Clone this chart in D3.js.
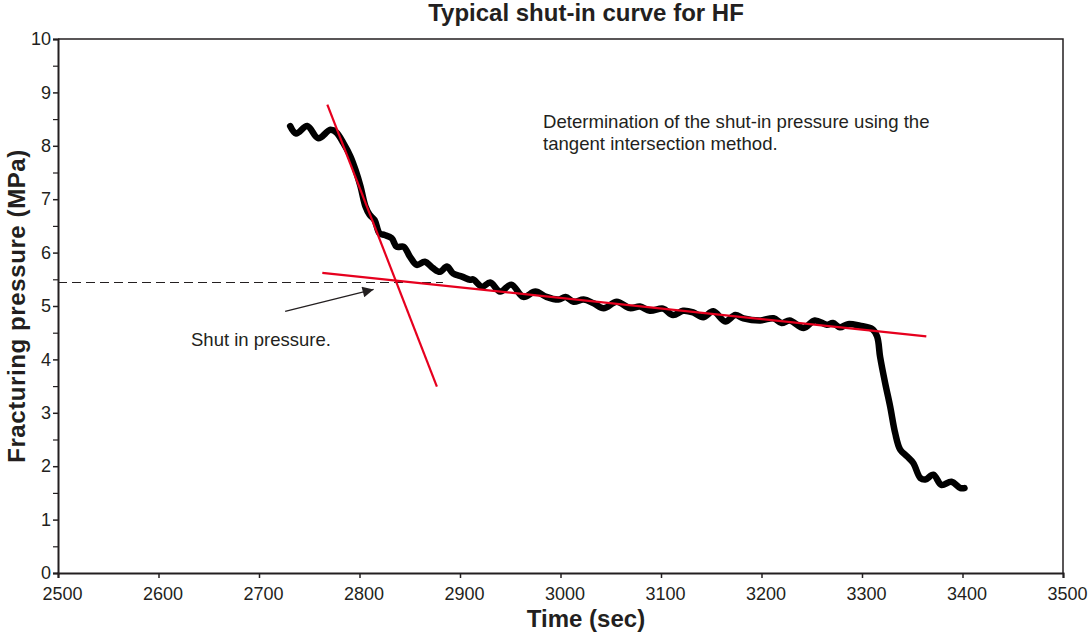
<!DOCTYPE html>
<html>
<head>
<meta charset="utf-8">
<script src="https://cdn.jsdelivr.net/npm/d3@7"></script>
<style>
  html, body { margin: 0; padding: 0; background: #fff; }
  svg { display: block; font-family: 'Liberation Sans', Arial, sans-serif; }
</style>
</head>
<body>
<div id="chart"></div>
<script>
// shut-in curve, values
const shutTime = [
  2731, 2737, 2748, 2759, 2771, 2777, 2784, 2791, 2796, 2801, 2806, 2810,
  2815, 2820, 2825, 2832, 2837, 2844, 2850, 2857, 2865, 2873, 2880, 2887,
  2893, 2902, 2910, 2913, 2922, 2930, 2940, 2951, 2963, 2975, 2986, 2998,
  3005, 3013, 3023, 3033, 3043, 3056, 3069, 3079, 3089, 3102, 3112, 3122,
  3132, 3142, 3152, 3164, 3174, 3182, 3199, 3212, 3220, 3228, 3242, 3253,
  3265, 3271, 3278, 3286, 3298, 3310, 3315, 3318, 3323, 3328, 3333, 3338,
  3345, 3351, 3358, 3363, 3371, 3379, 3389, 3398, 3402
];
const shutPressure = [
  8.37, 8.23, 8.37, 8.14, 8.30, 8.25, 8.05, 7.80, 7.55, 7.24, 6.86, 6.71,
  6.61, 6.36, 6.33, 6.27, 6.11, 6.11, 5.93, 5.77, 5.83, 5.71, 5.64, 5.74,
  5.61, 5.55, 5.49, 5.50, 5.36, 5.44, 5.27, 5.40, 5.17, 5.27, 5.17, 5.12,
  5.17, 5.08, 5.12, 5.05, 4.96, 5.08, 4.96, 4.99, 4.91, 4.95, 4.83, 4.91,
  4.88, 4.79, 4.90, 4.71, 4.83, 4.77, 4.73, 4.77, 4.68, 4.73, 4.59, 4.73,
  4.65, 4.68, 4.60, 4.66, 4.63, 4.57, 4.43, 4.05, 3.56, 3.12, 2.62, 2.31,
  2.18, 2.06, 1.78, 1.75, 1.84, 1.65, 1.71, 1.59, 1.59
];

// tangent lines (end points)
const steepTime = [2768, 2877];
const steepPressure = [8.77, 3.49];
const flatTime = [2763, 3364];
const flatPressure = [5.62, 4.43];

// shut-in pressure marker
const shutInPressure = 5.44;
const shutInDashTime = [2500, 2883];
const arrowTime = [2726, 2818];
const arrowPressure = [4.90, 5.33];

const xTicks = [2500, 2600, 2700, 2800, 2900, 3000, 3100, 3200, 3300, 3400, 3500];
const yTicks = [0, 1, 2, 3, 4, 5, 6, 7, 8, 9, 10];
const yMinorTicks = [0.5, 1.5, 2.5, 3.5, 4.5, 5.5, 6.5, 7.5, 8.5, 9.5];

const W = 1088, H = 632;
const m = { top: 39, right: 25, bottom: 59, left: 58 };
const iw = W - m.left - m.right;
const ih = H - m.top - m.bottom;
const INK = '#231f20';
const RED = '#e6001e';
const FONT = "'Liberation Sans', Arial, sans-serif";

const svg = d3.select('#chart').append('svg')
  .attr('width', W).attr('height', H)
  .attr('viewBox', `0 0 ${W} ${H}`);

const g = svg.append('g').attr('transform', `translate(${m.left},${m.top})`);

const x = d3.scaleLinear().domain([2500, 3500]).range([0, iw]);
const y = d3.scaleLinear().domain([0, 10]).range([ih, 0]);

// frame (top + right)
g.append('path')
  .attr('d', `M0,0H${iw}V${ih}`)
  .attr('fill', 'none').attr('stroke', INK).attr('stroke-width', 1.5);

// minor y ticks
g.append('g')
  .call(d3.axisLeft(y).tickValues(yMinorTicks).tickSize(5).tickFormat(''))
  .call(a => a.select('.domain').remove())
  .call(a => a.selectAll('.tick line').attr('stroke', INK).attr('stroke-width', 1.2));

// y axis
g.append('g')
  .call(d3.axisLeft(y).tickValues(yTicks).tickSize(5).tickPadding(2))
  .call(a => a.select('.domain').attr('stroke', INK).attr('stroke-width', 2))
  .call(a => a.selectAll('.tick line').attr('stroke', INK).attr('stroke-width', 1.5))
  .call(a => a.selectAll('.tick text')
    .attr('fill', INK).attr('font-size', '18px')
    .attr('font-family', FONT));

// x axis
g.append('g')
  .attr('transform', `translate(0,${ih})`)
  .call(d3.axisBottom(x).tickValues(xTicks).tickSize(5).tickPadding(9).tickFormat(d3.format('d')))
  .call(a => a.select('.domain').attr('stroke', INK).attr('stroke-width', 2))
  .call(a => a.selectAll('.tick line').attr('stroke', INK).attr('stroke-width', 1.5))
  .call(a => a.selectAll('.tick text')
    .attr('fill', INK).attr('font-size', '18px').attr('dx', 4)
    .attr('font-family', FONT));

// dashed shut-in level
g.append('line')
  .attr('x1', x(shutInDashTime[0])).attr('x2', x(shutInDashTime[1]))
  .attr('y1', y(shutInPressure)).attr('y2', y(shutInPressure))
  .attr('stroke', INK).attr('stroke-width', 1.2)
  .attr('stroke-dasharray', '9,5');

// measured curve
const line = d3.line()
  .x((d, i) => x(shutTime[i]))
  .y(d => y(d))
  .curve(d3.curveCatmullRom.alpha(0.5));

g.append('path')
  .datum(shutPressure)
  .attr('d', line)
  .attr('fill', 'none')
  .attr('stroke', '#000')
  .attr('stroke-width', 6.5)
  .attr('stroke-linejoin', 'round')
  .attr('stroke-linecap', 'round');

// tangents
[[steepTime, steepPressure], [flatTime, flatPressure]].forEach(([tt, pp]) => {
  g.append('line')
    .attr('x1', x(tt[0])).attr('y1', y(pp[0]))
    .attr('x2', x(tt[1])).attr('y2', y(pp[1]))
    .attr('stroke', RED).attr('stroke-width', 2.2);
});

// arrow
svg.append('defs').append('marker')
  .attr('id', 'head')
  .attr('viewBox', '0 0 10 10')
  .attr('refX', 10).attr('refY', 5)
  .attr('markerWidth', 15).attr('markerHeight', 11)
  .attr('markerUnits', 'userSpaceOnUse')
  .attr('orient', 'auto')
  .append('path').attr('d', 'M0,0L10,5L0,10z').attr('fill', INK);

g.append('line')
  .attr('x1', x(arrowTime[0])).attr('y1', y(arrowPressure[0]))
  .attr('x2', x(arrowTime[1]) - 4).attr('y2', y(arrowPressure[1]) + 1)
  .attr('stroke', INK).attr('stroke-width', 1.3)
  .attr('marker-end', 'url(#head)');

// annotations
svg.append('text')
  .attr('x', 191).attr('y', 346)
  .attr('font-size', '18.5px').attr('fill', INK)
  .text('Shut in pressure.');

const note = svg.append('text')
  .attr('x', 543).attr('y', 128)
  .attr('font-size', '18.6px').attr('fill', INK);
note.append('tspan').attr('x', 543).text('Determination of the shut-in pressure using the');
note.append('tspan').attr('x', 543).attr('dy', 22).text('tangent intersection method.');

// title + axis labels
svg.append('text')
  .attr('x', 586).attr('y', 21)
  .attr('text-anchor', 'middle')
  .attr('font-size', '24px').attr('font-weight', 'bold').attr('fill', INK)
  .text('Typical shut-in curve for HF');

svg.append('text')
  .attr('x', 586).attr('y', 627)
  .attr('text-anchor', 'middle')
  .attr('font-size', '24px').attr('font-weight', 'bold').attr('fill', INK)
  .text('Time (sec)');

svg.append('text')
  .attr('transform', 'translate(25,306) rotate(-90)')
  .attr('text-anchor', 'middle')
  .attr('font-size', '24px').attr('font-weight', 'bold').attr('fill', INK)
  .attr('letter-spacing', '0.6px')
  .text('Fracturing pressure (MPa)');
</script>
</body>
</html>
